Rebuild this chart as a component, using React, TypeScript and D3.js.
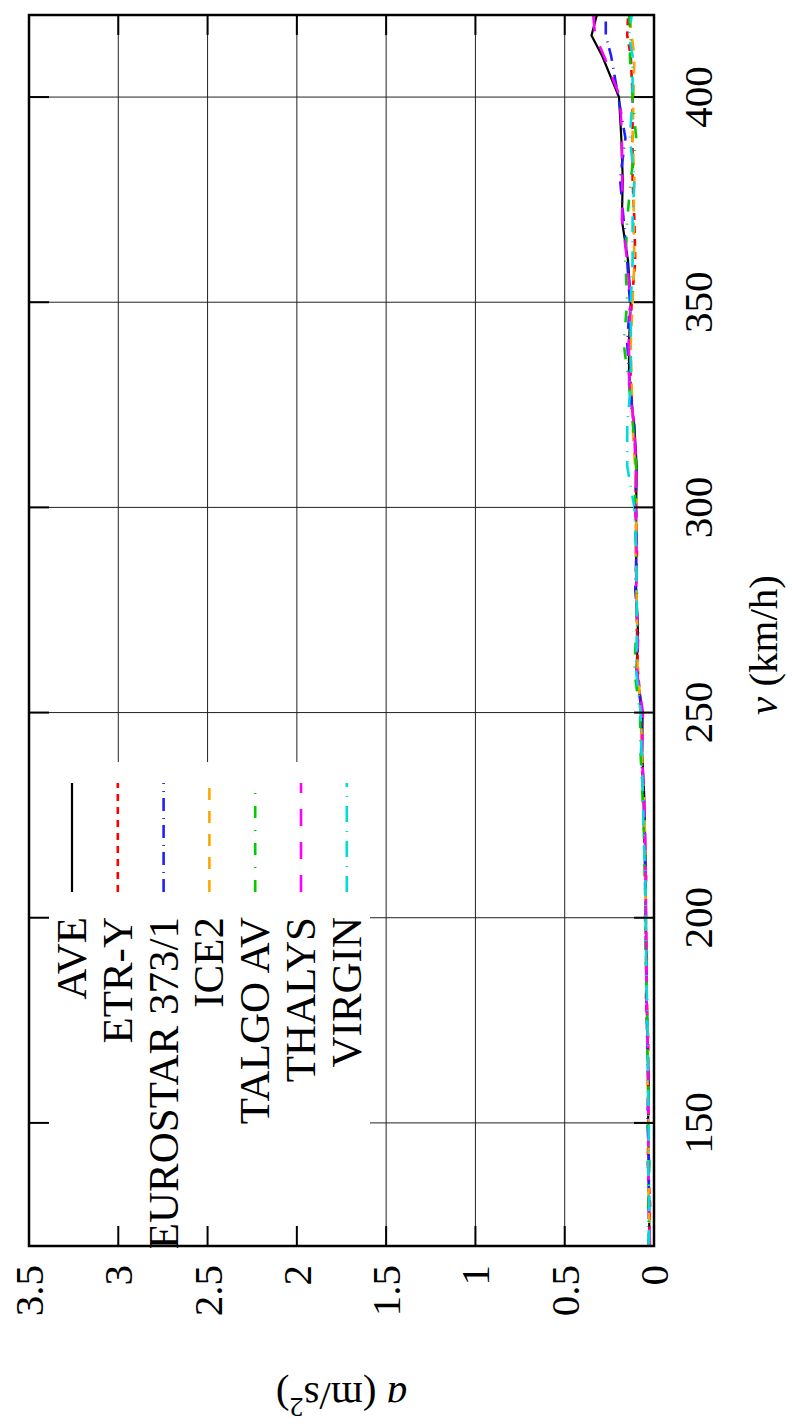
import React from "react";
import * as d3 from "d3";

// Train acceleration vs speed, drawn in landscape and turned a quarter turn.
const speeds = [120, 130, 140, 150, 160, 170, 180, 190, 200, 210, 220, 230, 240, 250, 260, 270, 280, 290, 300, 310, 320, 330, 340, 350, 360, 370, 380, 390, 400, 410, 415, 420];

const ave = [0.025, 0.028, 0.03, 0.033, 0.03, 0.036, 0.04, 0.042, 0.045, 0.046, 0.05, 0.055, 0.066, 0.064, 0.098, 0.09, 0.1, 0.1, 0.1, 0.097, 0.11, 0.14, 0.14, 0.13, 0.145, 0.18, 0.175, 0.183, 0.196, 0.29, 0.35, 0.32];
const etrY = [0.03, 0.022, 0.035, 0.03, 0.034, 0.032, 0.045, 0.04, 0.05, 0.044, 0.055, 0.06, 0.07, 0.07, 0.09, 0.095, 0.1, 0.095, 0.105, 0.1, 0.115, 0.13, 0.135, 0.125, 0.105, 0.11, 0.12, 0.12, 0.12, 0.13, 0.15, 0.145];
const eurostar = [0.028, 0.03, 0.028, 0.036, 0.033, 0.038, 0.042, 0.045, 0.048, 0.05, 0.052, 0.06, 0.072, 0.07, 0.095, 0.088, 0.105, 0.098, 0.1, 0.102, 0.112, 0.135, 0.15, 0.135, 0.15, 0.17, 0.19, 0.16, 0.2, 0.24, 0.27, 0.27];
const ice2 = [0.022, 0.03, 0.03, 0.03, 0.036, 0.034, 0.038, 0.046, 0.044, 0.05, 0.05, 0.058, 0.068, 0.072, 0.092, 0.094, 0.098, 0.104, 0.098, 0.106, 0.12, 0.125, 0.13, 0.12, 0.11, 0.115, 0.11, 0.12, 0.115, 0.11, 0.125, 0.135];
const talgo = [0.027, 0.032, 0.026, 0.034, 0.03, 0.04, 0.038, 0.048, 0.046, 0.052, 0.056, 0.065, 0.075, 0.078, 0.11, 0.1, 0.095, 0.102, 0.108, 0.1, 0.118, 0.14, 0.17, 0.15, 0.16, 0.15, 0.13, 0.1, 0.12, 0.135, 0.13, 0.14];
const thalys = [0.025, 0.027, 0.031, 0.032, 0.032, 0.036, 0.041, 0.043, 0.044, 0.047, 0.05, 0.056, 0.068, 0.062, 0.096, 0.092, 0.1, 0.098, 0.102, 0.1, 0.112, 0.138, 0.142, 0.132, 0.15, 0.178, 0.178, 0.18, 0.19, 0.28, 0.33, 0.34];
const virgin = [0.03, 0.026, 0.033, 0.028, 0.035, 0.034, 0.04, 0.044, 0.047, 0.048, 0.058, 0.062, 0.07, 0.075, 0.1, 0.096, 0.097, 0.1, 0.11, 0.15, 0.15, 0.13, 0.13, 0.13, 0.12, 0.12, 0.11, 0.135, 0.12, 0.12, 0.14, 0.125];

const seriesNames = ["AVE", "ETR-Y", "EUROSTAR 373/1", "ICE2", "TALGO AV", "THALYS", "VIRGIN"];
const seriesValues = [ave, etrY, eurostar, ice2, talgo, thalys, virgin];
const seriesColors = ["#000000", "#ff0000", "#2020ff", "#ffa500", "#00cc00", "#ff00ff", "#00dcdc"];
const seriesDashes = ["", "7,6", "13,6,1,7", "12,11", "12,12,1,12", "17,16", "16,9,1,9"];
const seriesWidths = [2.2, 2.6, 2.6, 2.6, 2.6, 2.6, 2.6];

const speedTicks = [150, 200, 250, 300, 350, 400];
const accelTicks = [0, 0.5, 1, 1.5, 2, 2.5, 3, 3.5];

const PAGE_W = 792;
const PAGE_H = 1427;
// landscape frame (before rotation): width = PAGE_H, height = PAGE_W
const left = 181;
const right = 1412;
const top = 29;
const bottom = 654;

const FONT = "Liberation Serif";

export default function App() {
  const x = d3.scaleLinear().domain([120, 420]).range([left, right]);
  const y = d3.scaleLinear().domain([0, 3.5]).range([bottom, top]);

  const line = (vals: number[]) =>
    d3
      .line<number>()
      .x((_, i) => x(speeds[i]))
      .y((d) => y(d))(vals) || "";

  const legendRows = seriesNames.map((_, i) => 72 + i * 45.8);
  const tickLen = 20;

  return (
    <svg
      width={PAGE_W}
      height={PAGE_H}
      style={{ position: "absolute", left: 0, top: 0, background: "#fff" }}
    >
      <rect x={0} y={0} width={PAGE_W} height={PAGE_H} fill="#fff" />
      <g transform={`translate(0,${PAGE_H}) rotate(-90)`}>
        {/* grid */}
        {speedTicks.map((t) => (
          <line key={"gx" + t} x1={x(t)} x2={x(t)} y1={top} y2={bottom} stroke="#222" strokeWidth={1} />
        ))}
        {accelTicks.map((t) => (
          <line key={"gy" + t} x1={left} x2={right} y1={y(t)} y2={y(t)} stroke="#222" strokeWidth={1} />
        ))}

        {/* legend box hides the grid behind it */}
        <rect x={left} y={top} width={665 - left} height={370 - top} fill="#fff" />

        {/* data */}
        <defs>
          <clipPath id="plotClip">
            <rect x={left} y={top} width={right - left} height={bottom - top} />
          </clipPath>
        </defs>
        <g clipPath="url(#plotClip)">
          {seriesValues.map((vals, i) => (
            <path
              key={seriesNames[i]}
              d={line(vals)}
              fill="none"
              stroke={seriesColors[i]}
              strokeWidth={seriesWidths[i]}
              strokeDasharray={seriesDashes[i] || undefined}
              strokeLinejoin="round"
            />
          ))}
        </g>

        {/* ticks on all four sides */}
        {speedTicks.map((t) => (
          <g key={"tx" + t} stroke="#000" strokeWidth={2}>
            <line x1={x(t)} x2={x(t)} y1={bottom} y2={bottom - tickLen} />
            <line x1={x(t)} x2={x(t)} y1={top} y2={top + tickLen} />
          </g>
        ))}
        {accelTicks.map((t) => (
          <g key={"ty" + t} stroke="#000" strokeWidth={2}>
            <line x1={left} x2={left + tickLen} y1={y(t)} y2={y(t)} />
            <line x1={right} x2={right - tickLen} y1={y(t)} y2={y(t)} />
          </g>
        ))}

        {/* frame */}
        <rect x={left} y={top} width={right - left} height={bottom - top} fill="none" stroke="#000" strokeWidth={2.5} />

        {/* tick labels */}
        {speedTicks.map((t) => (
          <text key={"lx" + t} x={x(t)} y={712} textAnchor="middle" fontSize={41} fontFamily={FONT} fill="#000">
            {t}
          </text>
        ))}
        {accelTicks.map((t) => (
          <text key={"ly" + t} x={162} y={y(t) + 14} textAnchor="end" fontSize={41} fontFamily={FONT} fill="#000">
            {t}
          </text>
        ))}

        {/* axis titles */}
        <text x={782} y={777} textAnchor="middle" fontSize={41} fontFamily={FONT} fill="#000">
          <tspan fontStyle="italic">v</tspan> (km/h)
        </text>
        <text
          transform={`translate(44,${(top + bottom) / 2}) rotate(-90)`}
          textAnchor="middle"
          fontSize={41}
          fontFamily={FONT}
          fill="#000"
        >
          <tspan fontStyle="italic">a</tspan> (m/s
          <tspan fontSize={28} dy={-15}>2</tspan>
          <tspan dy={15}>)</tspan>
        </text>

        {/* legend */}
        {seriesNames.map((name, i) => (
          <g key={"lg" + name}>
            <text x={510} y={legendRows[i] + 14} textAnchor="end" fontSize={43} fontFamily={FONT} fill="#000">
              {name}
            </text>
            <line
              x1={535}
              x2={644}
              y1={legendRows[i]}
              y2={legendRows[i]}
              stroke={seriesColors[i]}
              strokeWidth={seriesWidths[i]}
              strokeDasharray={seriesDashes[i] || undefined}
            />
          </g>
        ))}
      </g>
    </svg>
  );
}
